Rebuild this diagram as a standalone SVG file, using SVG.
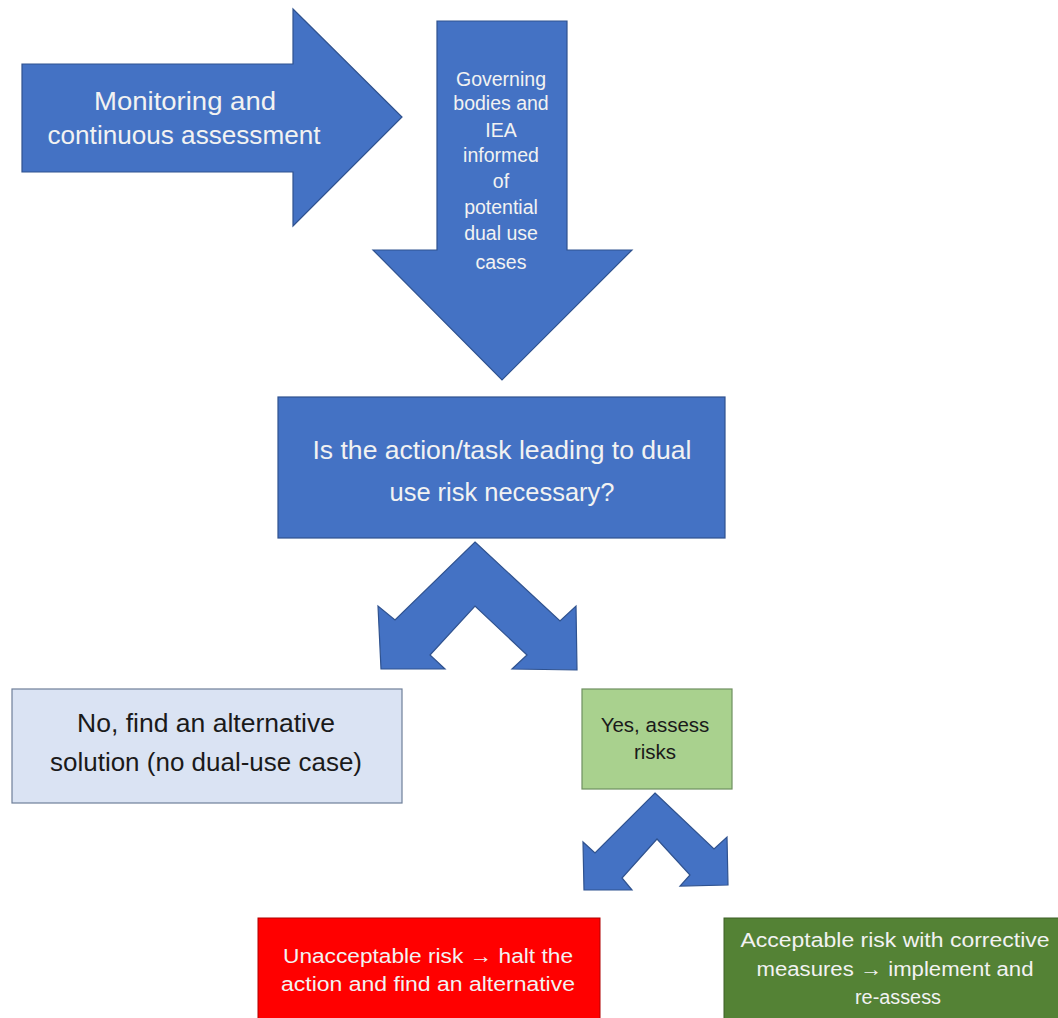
<svg xmlns="http://www.w3.org/2000/svg" width="1058" height="1018" viewBox="0 0 1058 1018">
<style>
.blue{fill:#4472C4;stroke:#2F528F;stroke-width:1.2}
.t{font-family:"Liberation Sans",Arial,sans-serif;text-anchor:middle}
.w{fill:#F2F2F2}
.d{fill:#1a1a1a}
</style>
<rect width="1058" height="1018" fill="#ffffff"/>
<g id="monitoring">
<polygon class="blue" points="22,64 293,64 293,9 402,117 293,226 293,172 22,172"/>
<text class="t w" font-size="26.5" x="185" y="110" textLength="182" lengthAdjust="spacingAndGlyphs">Monitoring and</text>
<text class="t w" font-size="26.5" x="184" y="144" textLength="273" lengthAdjust="spacingAndGlyphs">continuous assessment</text>
</g>
<g id="governing">
<polygon class="blue" points="437,21 567,21 567,250 632,250 502,380 373,250 437,250"/>
<g class="t w" font-size="19.5">
<text x="501" y="86">Governing</text>
<text x="501" y="110">bodies and</text>
<text x="501" y="137">IEA</text>
<text x="501" y="162">informed</text>
<text x="501" y="188">of</text>
<text x="501" y="214">potential</text>
<text x="501" y="240">dual use</text>
<text x="501" y="269">cases</text>
</g>
</g>
<g id="question">
<rect class="blue" x="278" y="397" width="447" height="141"/>
<text class="t w" font-size="25" x="502" y="459" textLength="379" lengthAdjust="spacingAndGlyphs">Is the action/task leading to dual</text>
<text class="t w" font-size="25" x="502" y="501" textLength="225" lengthAdjust="spacingAndGlyphs">use risk necessary?</text>
</g>
<g id="connectors">
<polygon class="blue" points="475,542 560,621 576,606 577,670 512,669 527,655 475,606 430,655 445,669 381,669 378,606 395,620"/>
<polygon class="blue" points="655,793 714,849 727,837 728,885 680,886 690,875 657,839 622,878 632,890 584,890 583,842 595,853"/>
</g>
<g id="no">
<rect x="12" y="689" width="390" height="114" fill="#DAE3F3" stroke="#6F7F99" stroke-width="1.2"/>
<text class="t d" font-size="25" x="206" y="732" textLength="258" lengthAdjust="spacingAndGlyphs">No, find an alternative</text>
<text class="t d" font-size="25" x="206" y="771" textLength="312" lengthAdjust="spacingAndGlyphs">solution (no dual-use case)</text>
</g>
<g id="yes">
<rect x="582" y="689" width="150" height="100" fill="#A9D18E" stroke="#6F8F60" stroke-width="1.2"/>
<text class="t d" font-size="20.5" x="655" y="732">Yes, assess</text>
<text class="t d" font-size="20.5" x="655" y="759">risks</text>
</g>
<g id="unacceptable">
<rect x="258" y="918" width="342" height="105" fill="#FF0000" stroke="#B00000" stroke-width="1"/>
<text class="t w" font-size="20" x="428" y="963" textLength="290" lengthAdjust="spacingAndGlyphs">Unacceptable risk → halt the</text>
<text class="t w" font-size="20" x="428" y="991" textLength="294" lengthAdjust="spacingAndGlyphs">action and find an alternative</text>
</g>
<g id="acceptable">
<rect x="724" y="918" width="340" height="105" fill="#548235" stroke="#3D5F26" stroke-width="1"/>
<text class="t w" font-size="20" x="895" y="947" textLength="309" lengthAdjust="spacingAndGlyphs">Acceptable risk with corrective</text>
<text class="t w" font-size="20" x="895" y="976" textLength="277" lengthAdjust="spacingAndGlyphs">measures → implement and</text>
<text class="t w" font-size="20" x="898" y="1004" textLength="86" lengthAdjust="spacingAndGlyphs">re-assess</text>
</g>
</svg>
